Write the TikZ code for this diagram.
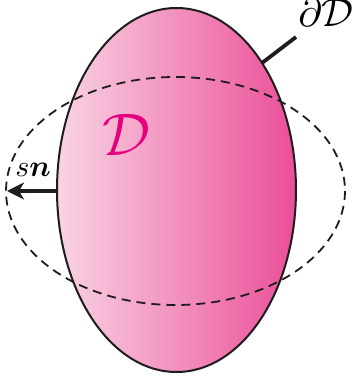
\documentclass[tikz,border=0pt]{standalone}
\usepackage{amsmath,bm}
\usetikzlibrary{arrows.meta}
\definecolor{pinkL}{RGB}{249,212,228}
\definecolor{pinkR}{RGB}{235,78,152}
\definecolor{magD}{RGB}{229,0,125}
\definecolor{ink}{RGB}{30,28,28}
\tikzset{
  outline/.style={draw=ink,line width=2pt},
  dashring/.style={draw=ink,line width=1.8pt,dash pattern=on 9pt off 6pt},
  thickline/.style={draw=ink,line width=3.8pt},
}
\begin{document}
\begin{tikzpicture}[x=1pt,y=-1pt]
\useasboundingbox (0,0) rectangle (358,381);
\coordinate (C) at (176.5,190);
\shade[left color=pinkL,right color=pinkR] (C) ellipse [x radius=119.5,y radius=182];
\draw[outline] (C) ellipse [x radius=119.5,y radius=182];
\coordinate (C2) at (175.5,191);
\draw[dashring] (C2) ellipse [x radius=169.5,y radius=114];
\coordinate (L) at (57,191);
\coordinate (tip) at (7,191);
\draw[thickline,-{Stealth[length=17pt,width=17pt,inset=5pt]}] (L) -- (tip);
\node[scale=3] (sn) at (33,170) {$s\bm{n}$};
\node[scale=6,text=magD] (D) at (126,135) {$\mathcal{D}$};
\coordinate (B) at (262,63);
\coordinate (Bend) at (296,37);
\draw[thickline] (B) -- (Bend);
\node[scale=4] (dD) at (326,13) {$\partial\mathcal{D}$};
\end{tikzpicture}
\end{document}
